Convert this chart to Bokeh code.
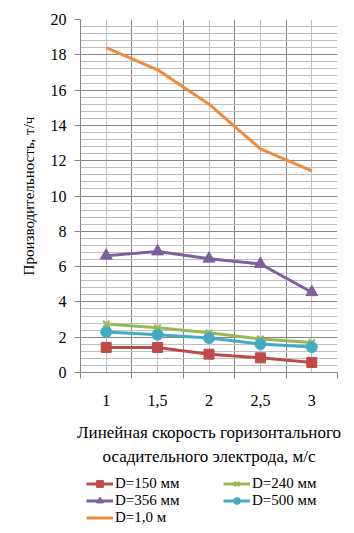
import numpy as np
from bokeh.plotting import figure
from bokeh.layouts import column
from bokeh.models import FixedTicker, Legend, LegendItem, Range1d
from bokeh.embed import file_html
from bokeh.resources import INLINE

# ---- data ----
x_values = [1, 1.5, 2, 2.5, 3]
x_labels = ["1", "1,5", "2", "2,5", "3"]
d150 = [1.42, 1.42, 1.04, 0.83, 0.57]
d240 = [2.75, 2.54, 2.25, 1.90, 1.70]
d356 = [6.62, 6.86, 6.45, 6.15, 4.55]
d500 = [2.30, 2.14, 1.95, 1.61, 1.44]
d1000 = [18.40, 17.15, 15.20, 12.67, 11.43]
series_names = ["D=150 мм", "D=240 мм", "D=356 мм", "D=500 мм", "D=1,0 м"]
y_ticks = list(range(0, 21, 2))
x_title = "Линейная скорость горизонтального\nосадительного электрода, м/с"
y_title = "Производительность, т/ч"

FONT = "Liberation Serif"
colors = ["#BE4B48", "#98B954", "#7D60A0", "#46AAC5", "#F08A3C"]
markers = ["square", "x", "triangle", "circle", None]
msizes = [10, 9, 12, 11, 0]
series = [d150, d240, d356, d500, d1000]

p = figure(width=354, height=472,
           x_range=Range1d(0.75, 3.25), y_range=Range1d(0, 20),
           output_backend="svg", toolbar_location=None,
           min_border_left=80, min_border_right=17,
           min_border_top=19, min_border_bottom=100)
p.outline_line_color = None
p.background_fill_color = "white"
p.border_fill_color = "white"

x_minor = [round(v, 2) for v in np.arange(0.75, 3.26, 0.5)]
y_minor = [round(v, 2) for v in np.arange(0, 20.01, 0.4) if abs(v / 2 - round(v / 2)) > 1e-6]

# x axis
p.xaxis.ticker = FixedTicker(ticks=x_values, minor_ticks=x_minor)
p.xaxis.major_label_overrides = {v: l for v, l in zip(x_values, x_labels)}
p.xaxis.major_tick_out = 0
p.xaxis.major_tick_in = 0
p.xaxis.minor_tick_out = 6
p.xaxis.minor_tick_in = 0
p.xaxis.minor_tick_line_color = "#868686"
p.xaxis.major_label_standoff = 16
p.xaxis.axis_label = x_title
p.xaxis.axis_label_standoff = 14
p.xaxis.axis_label_text_line_height = 1.3
p.xaxis.axis_label_text_font_size = "17px"

# y axis
p.yaxis.ticker = FixedTicker(ticks=y_ticks, minor_ticks=[])
p.yaxis.major_tick_out = 6
p.yaxis.major_tick_in = 0
p.yaxis.minor_tick_out = 0
p.yaxis.minor_tick_in = 0
p.yaxis.major_tick_line_color = "#868686"
p.yaxis.major_label_standoff = 8
p.yaxis.axis_label = y_title
p.yaxis.axis_label_standoff = 11
p.yaxis.axis_label_text_font_size = "15px"

for ax in (p.xaxis, p.yaxis):
    ax.axis_line_color = "#868686"
    ax.major_label_text_font = FONT
    ax.major_label_text_font_size = "16px"
    ax.major_label_text_color = "black"
    ax.axis_label_text_font = FONT
    ax.axis_label_text_font_style = "normal"
    ax.axis_label_text_color = "black"

# grids
p.xgrid.ticker = FixedTicker(ticks=x_values, minor_ticks=x_minor)
p.xgrid.grid_line_color = "#C0C0C0"
p.xgrid.minor_grid_line_color = "#868686"
p.ygrid.ticker = FixedTicker(ticks=y_ticks, minor_ticks=y_minor)
p.ygrid.grid_line_color = "#868686"
p.ygrid.minor_grid_line_color = "#C0C0C0"

# legend strip below the chart
pl = figure(width=354, height=61, x_range=Range1d(0, 1), y_range=Range1d(0, 1),
            output_backend="svg", toolbar_location=None,
            min_border=0, min_border_left=0, min_border_right=0,
            min_border_top=0, min_border_bottom=0)
pl.axis.visible = False
pl.grid.visible = False
pl.outline_line_color = None

def add_series(fig, ys, c, m, s, visible=True):
    rs = [fig.line(x_values, ys, line_color=c, line_width=3, visible=visible)]
    if m is not None:
        if m == "x":
            rs.append(fig.scatter(x_values, ys, marker=m, size=s, line_color=c,
                                  line_width=2, visible=visible))
        else:
            rs.append(fig.scatter(x_values, ys, marker=m, size=s, fill_color=c,
                                  line_color=c, visible=visible))
    return rs

items = []
for name, ys, c, m, s in zip(series_names, series, colors, markers, msizes):
    add_series(p, ys, c, m, s)
    rs = add_series(pl, ys, c, m, s, visible=False)
    items.append(LegendItem(label=name, renderers=rs))

legend = Legend(items=items, orientation="horizontal", ncols=2,
                location=(6, 7), margin=0, padding=2, spacing=0,
                glyph_width=27, glyph_height=17, label_height=17,
                label_width=108, label_standoff=2,
                label_text_font=FONT, label_text_font_size="15px",
                label_text_color="black", inactive_fill_alpha=0,
                border_line_color=None, background_fill_alpha=0)
pl.add_layout(legend, "center")

layout = column(p, pl, spacing=0)
open("out.html", "w").write(file_html(layout, INLINE))
